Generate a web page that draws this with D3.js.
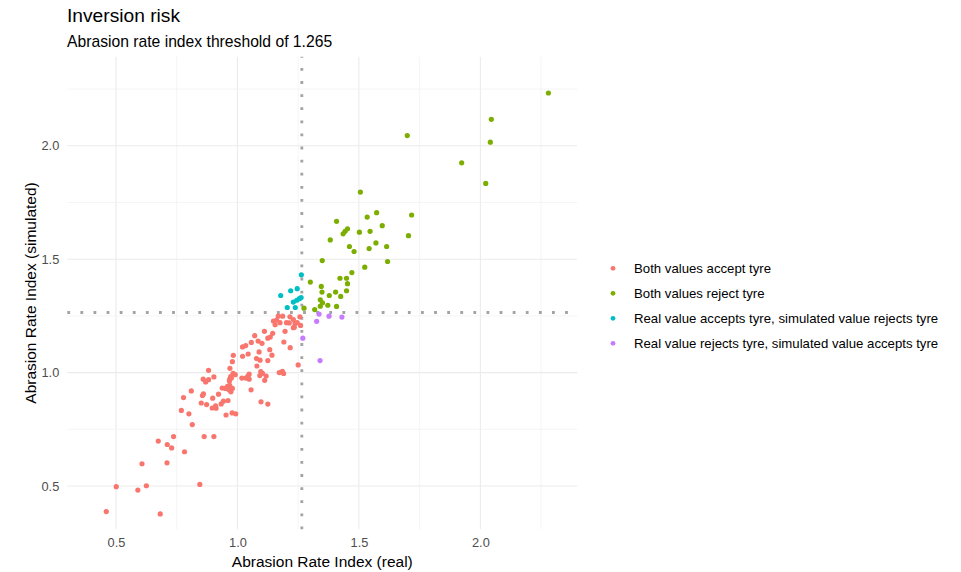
<!DOCTYPE html>
<html>
<head>
<meta charset="utf-8">
<script src="https://cdn.jsdelivr.net/npm/d3@7"></script>
<style>
  body { margin: 0; background: #fff; }
  text { font-family: "Liberation Sans", Arial, sans-serif; }
</style>
</head>
<body>
<div id="chart"></div>
<script>
// [real, simulated] pairs, grouped by outcome
var bothAccept = [
  [0.460,0.387],[0.682,0.377],[0.501,0.497],[0.590,0.482],[0.625,0.501],[0.845,0.507],
  [0.607,0.598],[0.710,0.602],[0.782,0.651],[0.674,0.698],[0.711,0.683],[0.729,0.668],
  [0.737,0.718],[0.863,0.718],[0.903,0.718],[0.814,0.771],[0.769,0.833],[0.800,0.818],
  [0.778,0.890],[0.810,0.919],[0.856,0.899],[0.860,0.906],[0.851,0.866],[0.873,0.859],
  [0.898,0.887],[0.896,0.844],[0.910,0.853],[0.912,0.843],[0.922,0.905],[0.933,0.862],
  [0.942,0.874],[0.953,0.813],[0.961,0.877],[0.978,0.822],[0.993,0.818],[0.937,0.932],
  [0.950,0.930],[0.965,0.924],[0.973,0.915],[0.979,0.930],[0.959,0.939],[0.968,0.944],
  [1.056,0.924],[1.097,0.871],[1.125,0.861],[0.859,0.971],[0.869,0.959],[0.881,0.969],
  [0.903,0.981],[0.881,1.010],[0.968,0.971],[0.972,0.982],[0.982,0.997],[0.991,0.991],
  [0.975,0.976],[0.967,0.963],[1.018,0.976],[1.034,0.976],[1.043,0.985],[1.048,0.971],
  [1.048,0.993],[0.969,1.019],[0.979,1.048],[0.983,1.076],[1.021,1.072],[1.044,1.082],
  [1.021,1.113],[1.034,1.119],[1.057,1.133],[1.071,1.163],[1.085,1.139],[1.101,1.129],
  [1.078,1.062],[1.093,1.055],[1.080,1.029],[1.089,1.091],[1.111,1.182],[1.125,1.152],
  [1.135,1.157],[1.145,1.173],[1.133,1.101],[1.142,1.077],[1.125,1.053],[1.096,1.004],
  [1.103,0.997],[1.118,0.985],[1.112,0.966],[1.092,0.987],[1.172,1.000],[1.185,1.006],
  [1.190,0.996],[1.250,1.034],[1.191,1.135],[1.217,1.110],[1.196,1.182],[1.155,1.211],
  [1.148,1.227],[1.161,1.231],[1.175,1.220],[1.186,1.249],[1.202,1.220],[1.216,1.246],
  [1.230,1.198],[1.237,1.217],[1.246,1.220],[1.260,1.208],[1.257,1.246],[1.168,1.249],
  [1.230,1.234],[1.234,1.200],[1.213,1.219]
];

var bothReject = [
  [2.280,2.233],[2.045,2.117],[2.041,2.016],[1.699,2.045],[1.923,1.925],[2.022,1.834],
  [1.506,1.796],[1.408,1.667],[1.534,1.686],[1.573,1.705],[1.717,1.695],[1.435,1.612],
  [1.443,1.623],[1.453,1.634],[1.502,1.619],[1.546,1.623],[1.596,1.648],[1.382,1.585],
  [1.461,1.556],[1.480,1.534],[1.570,1.572],[1.542,1.547],[1.614,1.556],[1.704,1.604],
  [1.618,1.490],[1.524,1.465],[1.349,1.494],[1.471,1.441],[1.422,1.416],[1.449,1.416],
  [1.453,1.392],[1.449,1.361],[1.425,1.336],[1.404,1.355],[1.378,1.340],[1.300,1.399],
  [1.345,1.380],[1.348,1.355],[1.341,1.321],[1.350,1.308],[1.341,1.293],[1.372,1.297],
  [1.408,1.292],[1.318,1.278],[1.274,1.284]
];

var realAcceptsSimRejects = [
  [1.263,1.431],[1.178,1.340],[1.219,1.361],[1.246,1.370],[1.262,1.331],[1.255,1.326],
  [1.244,1.319],[1.230,1.311],[1.205,1.287],[1.238,1.287]
];

var realRejectsSimAccepts = [
  [1.336,1.258],[1.377,1.249],[1.430,1.245],[1.326,1.226],[1.269,1.152],[1.340,1.053]
];

var groupNames = [
  "Both values accept tyre",
  "Both values reject tyre",
  "Real value accepts tyre, simulated value rejects tyre",
  "Real value rejects tyre, simulated value accepts tyre"
];
var groupColors = ["#F8766D", "#7CAE00", "#00BFC4", "#C77CFF"];
var threshold = 1.265;
var tickValues = [0.5, 1.0, 1.5, 2.0];
var gridValues = [0.5, 0.75, 1.0, 1.25, 1.5, 1.75, 2.0, 2.25];

var width = 961, height = 572;
var panel = {left: 67.3, right: 577.3, top: 56.7, bottom: 529.3};

var svg = d3.select("#chart").append("svg")
    .attr("width", width)
    .attr("height", height);

var x = d3.scaleLinear().domain([0.2995, 2.399]).range([panel.left, panel.right]);
var y = d3.scaleLinear().domain([0.309, 2.393]).range([panel.bottom, panel.top]);

var color = d3.scaleOrdinal().domain(groupNames).range(groupColors);

// gridlines (ggplot theme_minimal style)
var grid = svg.append("g").attr("class", "grid");
grid.selectAll(".vgrid")
    .data(gridValues)
    .enter().append("line")
    .attr("x1", d => x(d)).attr("x2", d => x(d))
    .attr("y1", panel.top).attr("y2", panel.bottom)
    .style("stroke", d => tickValues.indexOf(d) >= 0 ? "#EBEBEB" : "#F2F2F2")
    .style("stroke-width", d => tickValues.indexOf(d) >= 0 ? 1.1 : 0.8);
grid.selectAll(".hgrid")
    .data(gridValues)
    .enter().append("line")
    .attr("y1", d => y(d)).attr("y2", d => y(d))
    .attr("x1", panel.left).attr("x2", panel.right)
    .style("stroke", d => tickValues.indexOf(d) >= 0 ? "#EBEBEB" : "#F2F2F2")
    .style("stroke-width", d => tickValues.indexOf(d) >= 0 ? 1.1 : 0.8);

// threshold lines
svg.append("line")
    .attr("x1", panel.left).attr("x2", panel.right)
    .attr("y1", y(threshold)).attr("y2", y(threshold))
    .style("stroke", "#A3A3A3").style("stroke-width", 2.8)
    .style("stroke-dasharray", "2.8,10.3");
svg.append("line")
    .attr("x1", x(threshold)).attr("x2", x(threshold))
    .attr("y1", panel.bottom).attr("y2", panel.top)
    .style("stroke", "#A3A3A3").style("stroke-width", 2.8)
    .style("stroke-dasharray", "2.8,10.3");

// points
var groups = [bothAccept, bothReject, realAcceptsSimRejects, realRejectsSimAccepts];
groups.forEach((pts, i) => {
    svg.append("g").selectAll("circle")
        .data(pts)
        .enter().append("circle")
        .attr("cx", d => x(d[0]))
        .attr("cy", d => y(d[1]))
        .attr("r", 2.6)
        .style("fill", color(groupNames[i]));
});

// axes (no domain line, no ticks)
var xAxis = svg.append("g")
    .attr("transform", "translate(0," + panel.bottom + ")")
    .call(d3.axisBottom(x).tickValues(tickValues).tickSize(0).tickPadding(9).tickFormat(d3.format(".1f")));
var yAxis = svg.append("g")
    .attr("transform", "translate(" + panel.left + ",0)")
    .call(d3.axisLeft(y).tickValues(tickValues).tickSize(0).tickPadding(8).tickFormat(d3.format(".1f")));
[xAxis, yAxis].forEach(a => {
    a.select(".domain").remove();
    a.selectAll("text")
        .style("font-family", "'Liberation Sans', Arial, sans-serif")
        .style("font-size", "12.8px")
        .style("fill", "#4D4D4D");
});

// titles
svg.append("text")
    .attr("x", 67).attr("y", 21.7)
    .style("font-size", "19.2px").style("fill", "#000")
    .text("Inversion risk");
svg.append("text")
    .attr("x", 67).attr("y", 46.7)
    .style("font-size", "15.7px").style("fill", "#000")
    .text("Abrasion rate index threshold of 1.265");

svg.append("text")
    .attr("x", (panel.left + panel.right) / 2).attr("y", 567)
    .style("text-anchor", "middle")
    .style("font-size", "15.5px").style("fill", "#000")
    .text("Abrasion Rate Index (real)");
svg.append("text")
    .attr("transform", "translate(36," + (panel.top + panel.bottom) / 2 + ") rotate(-90)")
    .style("text-anchor", "middle")
    .style("font-size", "15.5px").style("fill", "#000")
    .text("Abrasion Rate Index (simulated)");

// legend
var legend = svg.append("g").attr("class", "legendbox")
    .selectAll(".legend")
    .data(groupNames)
    .enter().append("g")
    .attr("class", "legend")
    .attr("transform", (d, i) => "translate(613," + (268.3 + i * 25) + ")");

legend.append("circle")
    .attr("r", 2.4)
    .style("fill", d => color(d));

legend.append("text")
    .attr("x", 21)
    .attr("dy", "0.35em")
    .style("font-size", "13.2px").style("fill", "#000")
    .text(d => d);
</script>
</body>
</html>
